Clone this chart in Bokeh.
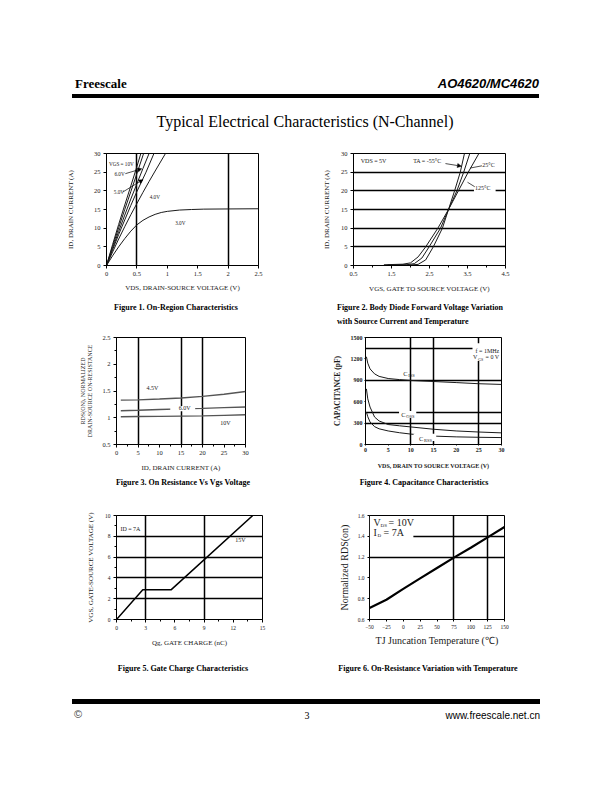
from bokeh.plotting import figure
from bokeh.models import Div, Label, Arrow, NormalHead, FixedTicker, BoxAnnotation
from bokeh.layouts import column, row
from bokeh.embed import file_html
from bokeh.resources import INLINE

SERIF = "Liberation Serif"
SANS = "Liberation Sans"
INK = "#1a1a1a"

# ---------------- data ----------------
# Figure 1: On-region characteristics (VDS [V] -> ID [A])
f1_vds_10v = [0, 0.1, 0.2, 0.3, 0.4, 0.5, 0.565]
f1_id_10v = [0, 5.6, 11.0, 16.2, 21.3, 26.5, 30]
f1_vds_6v = [0, 0.1, 0.2, 0.3, 0.4, 0.5, 0.61]
f1_id_6v = [0, 5.1, 10.1, 15.0, 19.8, 24.6, 30]
f1_vds_5v = [0, 0.1, 0.2, 0.3, 0.4, 0.5, 0.6, 0.70]
f1_id_5v = [0, 4.6, 9.1, 13.5, 17.8, 21.9, 26.0, 30]
f1_vds_45v = [0, 0.1, 0.2, 0.3, 0.4, 0.5, 0.65, 0.78]
f1_id_45v = [0, 4.2, 8.3, 12.2, 16.1, 19.8, 25.0, 30]
f1_vds_4v = [0, 0.1, 0.2, 0.3, 0.4, 0.5, 0.6, 0.7, 0.8, 0.97]
f1_id_4v = [0, 3.6, 7.1, 10.4, 13.6, 16.6, 19.6, 22.5, 25.3, 30]
f1_vds_3v = [0, 0.1, 0.2, 0.3, 0.4, 0.5, 0.6, 0.7, 0.8, 0.9, 1.0, 1.2, 1.4, 1.6, 2.0, 2.5]
f1_id_3v = [0, 2.6, 5.0, 7.2, 9.2, 10.9, 12.1, 13.0, 13.7, 14.2, 14.5, 14.85, 15.0, 15.1, 15.15, 15.2]
f1_xticks = [0, 0.5, 1, 1.5, 2, 2.5]
f1_yticks = [0, 5, 10, 15, 20, 25, 30]

# Figure 2: transfer characteristics (VGS [V] -> ID [A])
f2_vgs_m55 = [1.5, 2.0, 2.2, 2.4, 2.6, 2.84, 3.0, 3.16, 3.31, 3.42]
f2_id_m55 = [0.1, 0.15, 0.3, 1.5, 5.0, 10.0, 15.0, 20.0, 25.0, 30.0]
f2_vgs_25 = [1.4, 1.9, 2.1, 2.3, 2.49, 2.79, 3.0, 3.22, 3.40, 3.56]
f2_id_25 = [0.15, 0.2, 0.5, 2.0, 5.0, 10.0, 15.0, 20.0, 25.0, 30.0]
f2_vgs_125 = [1.3, 1.8, 2.0, 2.2, 2.4, 2.72, 3.0, 3.26, 3.52, 3.80]
f2_id_125 = [0.2, 0.35, 0.7, 2.3, 5.0, 10.0, 15.0, 20.0, 25.0, 30.0]
f2_xticks = [0.5, 1.5, 2.5, 3.5, 4.5]
f2_yticks = [0, 5, 10, 15, 20, 25, 30]

# Figure 3: normalized on-resistance vs drain current
f3_id = [1, 5, 10, 15, 20, 25, 30]
f3_r_45v = [1.33, 1.335, 1.35, 1.37, 1.40, 1.44, 1.49]
f3_r_6v = [1.13, 1.14, 1.155, 1.165, 1.175, 1.19, 1.20]
f3_r_10v = [1.02, 1.022, 1.025, 1.03, 1.035, 1.045, 1.055]
f3_xticks = [0, 5, 10, 15, 20, 25, 30]
f3_yticks = [0.5, 1, 1.5, 2, 2.5]

# Figure 4: capacitance vs VDS
f4_vds = [0.2, 0.5, 1, 2, 3, 5, 7.5, 10, 15, 20, 25, 30]
f4_ciss = [1230, 1140, 1060, 990, 955, 925, 910, 898, 883, 868, 852, 842]
f4_coss = [780, 640, 525, 385, 330, 280, 262, 246, 214, 190, 175, 163]
f4_crss = [455, 390, 316, 250, 220, 190, 165, 146, 118, 107, 101, 97]
f4_xticks = [0, 5, 10, 15, 20, 25, 30]
f4_yticks = [0, 300, 600, 900, 1200, 1500]

# Figure 5: gate charge
f5_qg = [0, 2.7, 5.6, 14.0]
f5_vgs = [0, 2.85, 2.85, 10.0]
f5_xticks = [0, 3, 6, 9, 12, 15]
f5_yticks = [0, 2, 4, 6, 8, 10]

# Figure 6: normalized RDS(on) vs junction temperature
f6_tj = [-50, -25, 0, 25, 50, 75, 100, 125, 150]
f6_r = [0.71, 0.79, 0.895, 0.995, 1.095, 1.195, 1.29, 1.39, 1.49]
f6_xticks = [-50, -25, 0, 25, 50, 75, 100, 125, 150]
f6_yticks = [0.6, 0.8, 1.0, 1.2, 1.4, 1.6]


# ---------------- helpers ----------------
def base(width, height, xr, yr, left, right, top, bottom, xticks, yticks,
         xminor=None, yminor=None):
    p = figure(width=width, height=height, x_range=xr, y_range=yr,
               output_backend="svg", toolbar_location=None,
               min_border_left=left, min_border_right=right,
               min_border_top=top, min_border_bottom=bottom,
               margin=(0, 0, 0, 0))
    p.outline_line_color = "black"
    p.outline_line_width = 1
    p.background_fill_color = "white"
    p.border_fill_color = "white"
    p.xaxis.ticker = FixedTicker(ticks=xticks, minor_ticks=xminor or [])
    p.yaxis.ticker = FixedTicker(ticks=yticks, minor_ticks=yminor or [])
    for ax in (p.xaxis[0], p.yaxis[0]):
        ax.axis_line_color = "black"
        ax.major_tick_line_color = "black"
        ax.minor_tick_line_color = "black"
        ax.major_tick_in = 0
        ax.major_tick_out = 3
        ax.minor_tick_in = 0
        ax.minor_tick_out = 2
        ax.major_label_text_font = SERIF
        ax.major_label_text_font_size = "6.5px"
        ax.major_label_text_color = INK
        ax.major_label_standoff = 3
        ax.axis_label_text_font = SERIF
        ax.axis_label_text_font_size = "7px"
        ax.axis_label_text_font_style = "normal"
        ax.axis_label_text_color = INK
    p.xgrid.grid_line_color = None
    p.ygrid.grid_line_color = None
    return p


def grid(p, xs=None, ys=None, width=1.5):
    if xs:
        p.xgrid.ticker = FixedTicker(ticks=xs)
        p.xgrid.grid_line_color = "black"
        p.xgrid.grid_line_width = width
    if ys:
        p.ygrid.ticker = FixedTicker(ticks=ys)
        p.ygrid.grid_line_color = "black"
        p.ygrid.grid_line_width = width


def lab(p, x, y, text, size="6px", align="left", font=SERIF, style="normal",
        xo=0, yo=0, bg=None):
    p.add_layout(Label(x=x, y=y, text=text, text_font=font, text_font_size=size,
                       text_align=align, text_baseline="middle", text_color=INK,
                       text_font_style=style, x_offset=xo, y_offset=yo,
                       background_fill_color=bg))


def arrow(p, x0, y0, x1, y1, head=True):
    end = NormalHead(size=4, fill_color="black", line_color="black", line_width=0.5) if head else None
    p.add_layout(Arrow(end=end, x_start=x0, y_start=y0, x_end=x1, y_end=y1,
                       line_width=0.7, line_color="black"))


def mask(p, l, r, b, t):
    p.add_layout(BoxAnnotation(left=l, right=r, bottom=b, top=t, fill_color="white",
                               fill_alpha=1, line_alpha=0))


def span(text, top, size, family=SERIF, weight="normal", style="normal",
         left=None, right=None, center=None, width=300, color="black", lh=None):
    lh = lh or size + 2
    if center is not None:
        pos = f"left:{center - width / 2}px;width:{width}px;text-align:center;"
    elif right is not None:
        pos = f"left:{right - width}px;width:{width}px;text-align:right;"
    else:
        pos = f"left:{left}px;"
    return (f'<span style="position:absolute;{pos}top:{top}px;font-family:\'{family}\';'
            f'font-size:{size}px;line-height:{lh}px;font-weight:{weight};font-style:{style};'
            f'color:{color};white-space:nowrap;">{text}</span>')


def bar(left, top, width, height):
    return (f'<div style="position:absolute;left:{left}px;top:{top}px;width:{width}px;'
            f'height:{height}px;background:black;"></div>')


def block(height, inner):
    return Div(width=612, height=height, margin=(0, 0, 0, 0),
               text=f'<div style="position:relative;width:612px;height:{height}px;overflow:hidden;">{inner}</div>')


# ---------------- header ----------------
header = block(140,
               span("Freescale", 76, 13, weight="bold", left=75) +
               span("AO4620/MC4620", 76, 13, family=SANS, weight="bold", style="italic", right=539) +
               bar(72, 94, 467, 4) +
               span("Typical Electrical Characteristics (N-Channel)", 112, 16, center=305, width=420, lh=20))

# ---------------- Figure 1 ----------------
p1 = base(306, 158, (0, 2.5), (0, 30), 106, 48, 13, 32, f1_xticks, f1_yticks)
p1.xaxis.major_label_overrides = {0: "0", 1: "1", 2: "2"}
p1.xaxis.axis_label = "VDS, DRAIN-SOURCE VOLTAGE (V)"
p1.yaxis.axis_label = "ID, DRAIN CURRENT (A)"
p1.xaxis.axis_label_standoff = 5
p1.yaxis.axis_label_standoff = 16
grid(p1, xs=[0.5, 2])
for xs, ys in [(f1_vds_10v, f1_id_10v), (f1_vds_6v, f1_id_6v), (f1_vds_5v, f1_id_5v),
               (f1_vds_45v, f1_id_45v), (f1_vds_4v, f1_id_4v), (f1_vds_3v, f1_id_3v)]:
    p1.line(xs, ys, line_color=INK, line_width=1)
lab(p1, 0.04, 27.2, "VGS = 10V", size="5.2px")
lab(p1, 0.13, 24.6, "6.0V", size="5.2px")
lab(p1, 0.12, 19.8, "5.0V", size="5.2px")
lab(p1, 0.71, 18.4, "4.0V", size="5.2px")
lab(p1, 1.13, 11.3, "3.0V", size="5.2px")
arrow(p1, 0.31, 24.6, 0.58, 25.9)
arrow(p1, 0.27, 19.7, 0.60, 23.0)

# ---------------- Figure 2 ----------------
p2 = base(306, 158, (0.5, 4.5), (0, 30), 47, 107, 8, 33, f2_xticks, f2_yticks,
          xminor=[1, 2, 3, 4])
p2.xaxis.axis_label = "VGS, GATE TO SOURCE VOLTAGE (V)"
p2.yaxis.axis_label = "ID, DRAIN CURRENT (A)"
p2.xaxis.axis_label_standoff = 6
p2.yaxis.axis_label_standoff = 7
grid(p2, ys=[5, 10, 15, 20, 25])
for xs, ys in [(f2_vgs_m55, f2_id_m55), (f2_vgs_25, f2_id_25), (f2_vgs_125, f2_id_125)]:
    p2.line(xs, ys, line_color=INK, line_width=1)
mask(p2, 3.67, 4.24, 19.0, 22.6)
lab(p2, 0.69, 28.1, "VDS = 5V", size="6px")
lab(p2, 2.07, 28.1, "TA = -55°C", size="6px")
lab(p2, 3.89, 26.8, "25°C", size="6px")
lab(p2, 3.70, 20.8, "125°C", size="6px")
arrow(p2, 2.92, 27.3, 3.34, 26.6)
arrow(p2, 3.88, 26.7, 3.57, 26.1, head=False)
arrow(p2, 3.69, 21.1, 3.50, 22.3, head=False)

# ---------------- Figure 3 ----------------
p3 = base(306, 147, (0, 30), (0.5, 2.5), 116, 61, 7, 32, f3_xticks, f3_yticks,
          xminor=[2.5, 7.5, 12.5, 17.5, 22.5, 27.5], yminor=[0.75, 1.25, 1.75, 2.25])
p3.xaxis.axis_label = "ID, DRAIN CURRENT (A)"
p3.yaxis.axis_label = "RDS(ON), NORMALIZED\nDRAIN-SOURCE ON-RESISTANCE"
p3.yaxis.axis_label_text_font_size = "6px"
p3.yaxis.major_label_overrides = {1: "1", 2: "2"}
p3.xaxis.axis_label_standoff = 6
p3.yaxis.axis_label_standoff = 6
grid(p3, xs=[5, 15, 20])
for ys in (f3_r_45v, f3_r_6v, f3_r_10v):
    p3.line(f3_id, ys, line_color="#555555", line_width=1.4)
mask(p3, 12.5, 18.3, 1.12, 1.22)
lab(p3, 7.0, 1.55, "4.5V")
lab(p3, 14.5, 1.175, "6.0V")
lab(p3, 24.1, 0.90, "10V")

# ---------------- Figure 4 ----------------
p4 = base(306, 147, (0, 30), (0, 1500), 59, 111, 7, 33, f4_xticks, f4_yticks)
p4.xaxis.axis_label = "VDS, DRAIN TO SOURCE VOLTAGE (V)"
p4.yaxis.axis_label = "CAPACITANCE (pF)"
for ax in (p4.xaxis[0], p4.yaxis[0]):
    ax.axis_label_text_font_style = "bold"
    ax.major_label_text_font_style = "bold"
    ax.major_label_text_font_size = "6px"
    ax.major_tick_out = 1
    ax.major_label_standoff = 2
p4.xaxis.axis_label_text_font_size = "6px"
p4.yaxis.axis_label_text_font_size = "7.5px"
p4.xaxis.axis_label_standoff = 8
p4.yaxis.axis_label_standoff = 6
grid(p4, xs=[10, 15, 25], ys=[300, 450, 900, 1350])
for ys in (f4_ciss, f4_coss, f4_crss):
    p4.line(f4_vds, ys, line_color=INK, line_width=1)
mask(p4, 23.6, 29.9, 1170, 1420)
mask(p4, 7.4, 11.2, 370, 470)
mask(p4, 10.6, 15.6, 50, 150)
lab(p4, 29.5, 1315, "f = 1MHz", align="right")
lab(p4, 29.5, 1222, "V", align="right", xo=-22)
lab(p4, 29.5, 1222, "GS", size="4px", align="right", xo=-16, yo=-2)
lab(p4, 29.5, 1222, "= 0 V", align="right")
lab(p4, 8.3, 1000, "C", size="6.5px")
lab(p4, 8.3, 1000, "ISS", size="4.5px", xo=5, yo=-2)
lab(p4, 7.9, 420, "C", size="6.5px")
lab(p4, 7.9, 420, "OSS", size="4.5px", xo=5, yo=-2)
lab(p4, 11.8, 84, "C", size="6.5px")
lab(p4, 11.8, 84, "RSS", size="4.5px", xo=5, yo=-2)

# ---------------- Figure 5 ----------------
p5 = base(306, 150, (0, 15), (0, 10), 116, 44, 10, 36, f5_xticks, f5_yticks,
          xminor=[1.5, 4.5, 7.5, 10.5, 13.5], yminor=[1, 3, 5, 7, 9])
p5.xaxis.axis_label = "Qg, GATE CHARGE (nC)"
p5.yaxis.axis_label = "VGS, GATE-SOURCE VOLTAGE (V)"
p5.xaxis.major_label_text_font_size = "5.5px"
p5.yaxis.major_label_text_font_size = "5.5px"
p5.xaxis.axis_label_standoff = 6
p5.yaxis.axis_label_standoff = 7
grid(p5, xs=[3, 9], ys=[2, 4, 6, 8])
p5.line(f5_qg, f5_vgs, line_color="black", line_width=1.5)
lab(p5, 0.4, 8.7, "ID = 7A")
lab(p5, 12.2, 7.65, "15V")

# ---------------- Figure 6 ----------------
p6 = base(306, 150, (-50, 150), (0.6, 1.6), 63, 108, 7, 31, f6_xticks, f6_yticks)
p6.xaxis.axis_label = "TJ Juncation Temperature (℃)"
p6.yaxis.axis_label = "Normalized RDS(on)"
p6.yaxis.major_label_overrides = {1: "1.0"}
for ax in (p6.xaxis[0], p6.yaxis[0]):
    ax.major_label_text_font_size = "5.5px"
    ax.axis_label_text_font_size = "10px"
    ax.major_tick_out = 2
p6.xaxis.axis_label_standoff = 3
p6.yaxis.axis_label_standoff = 5
grid(p6, xs=[75, 125], ys=[1.2, 1.4])
p6.line(f6_tj, f6_r, line_color="black", line_width=2.2)
mask(p6, -49.6, 15, 1.37, 1.59)
lab(p6, -44, 1.535, "V", size="10px")
lab(p6, -44, 1.535, "DS", size="5px", xo=7, yo=-3)
lab(p6, -44, 1.535, "= 10V", size="10px", xo=15)
lab(p6, -44, 1.435, "I", size="10px")
lab(p6, -44, 1.435, "D", size="5px", xo=4, yo=-3)
lab(p6, -44, 1.435, "= 7A", size="10px", xo=10)

# ---------------- captions / footer ----------------
cap1 = block(32,
             span("Figure 1. On-Region Characteristics", 5, 8, weight="bold", center=176) +
             span("Figure 2. Body Diode Forward Voltage Variation", 5, 8, weight="bold", left=337) +
             span("with Source Current and Temperature", 19, 8, weight="bold", left=337))
cap2 = block(28,
             span("Figure 3. On Resistance Vs Vgs Voltage", 1, 8, weight="bold", center=183) +
             span("Figure 4. Capacitance Characteristics", 1, 8, weight="bold", center=424))
cap3 = block(35,
             span("Figure 5. Gate Charge Characteristics", 9, 8, weight="bold", center=183) +
             span("Figure 6. On-Resistance Variation with Temperature", 9, 8, weight="bold", center=428))
footer = block(60,
               bar(72, 9, 468, 5) +
               span("©", 18, 11, family=SANS, left=74, color="#444") +
               span("3", 20, 10, center=307, width=20) +
               span("www.freescale.net.cn", 20, 10, family=SANS, right=540))

layout = column(header,
                row(p1, p2, spacing=0), cap1,
                row(p3, p4, spacing=0), cap2,
                row(p5, p6, spacing=0), cap3,
                footer, spacing=0)

open("out.html", "w").write(file_html(layout, INLINE))
